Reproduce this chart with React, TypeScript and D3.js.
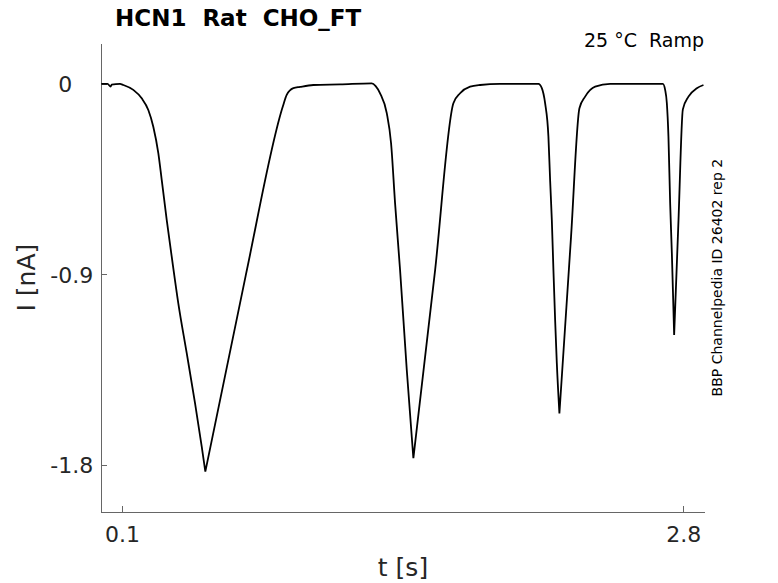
import React, { useEffect, useRef } from 'react'
import * as d3 from 'd3'

// trace: time in s, current in nA
const timeValues = [
  0.0, 0.03, 0.045, 0.05, 0.09, 0.1059, 0.154, 0.1944, 0.2262, 0.2502, 0.2743, 0.2907, 0.3147,
  0.3388, 0.3705, 0.411, 0.4509, 0.4832, 0.5005, 0.695, 0.8744, 0.892, 0.924, 0.956, 1.02, 1.149,
  1.301, 1.32, 1.3412, 1.3734, 1.3941, 1.4134, 1.4374, 1.4697, 1.5014, 1.606, 1.6939, 1.7262,
  1.7743, 1.8224, 1.918, 2.103, 2.1194, 2.1352, 2.1511, 2.1593, 2.1675, 2.1752, 2.1834, 2.1915,
  2.204, 2.26, 2.3003, 2.3277, 2.3759, 2.4481, 2.7017, 2.7127, 2.7209, 2.7286, 2.7368, 2.745,
  2.7527, 2.756, 2.777, 2.7979, 2.8248, 2.8652, 2.897,
]
const currentValues = [
  0.0, 0.0, -0.012, -0.003, 0.0, -0.005, -0.028, -0.068, -0.123, -0.202, -0.327, -0.453, -0.642,
  -0.816, -1.036, -1.272, -1.508, -1.713, -1.831, -0.904, -0.103, -0.052, -0.02, -0.014, -0.005,
  -0.002, 0.003, -0.01, -0.044, -0.138, -0.28, -0.564, -0.879, -1.351, -1.768, -0.879, -0.091,
  -0.044, -0.013, -0.005, 0.0, 0.0, -0.02, -0.091, -0.249, -0.455, -0.642, -0.879, -1.115, -1.318,
  -1.556, -0.721, -0.115, -0.06, -0.013, 0.0, 0.0, -0.028, -0.091, -0.249, -0.564, -0.8, -1.068,
  -1.186, -0.642, -0.12, -0.06, -0.02, -0.005,
]

const xTicks = [0.1, 2.8]
const xTickLabels = ['0.1', '2.8']
const yTicks = [0, -0.9, -1.8]
const yTickLabels = ['0   ', '-0.9', '-1.8']

const title = 'HCN1  Rat  CHO_FT'
const subtitle = '25 °C  Ramp'
const sideNote = 'BBP Channelpedia ID 26402 rep 2'

export default function App() {
  const svgRef = useRef<SVGSVGElement>(null)

  useEffect(() => {
    const svg = d3.select(svgRef.current)
    svg.selectAll('*').remove()

    const width = 778
    const height = 583
    const font = '"DejaVu Sans", sans-serif'
    const textColor = '#262626'

    const x = d3.scaleLinear().domain([0, 2.903]).range([101.3, 704.7])
    const y = d3.scaleLinear().domain([-2.022, 0.192]).range([512, 43.3])

    svg.attr('width', width).attr('height', height)

    // x axis, ticks pointing inward
    const xAxis = svg.append('g')
      .attr('transform', `translate(0, ${y.range()[0]})`)
      .call(
        d3.axisBottom(x)
          .tickValues(xTicks)
          .tickFormat((_, i) => xTickLabels[i])
          .tickSizeInner(-6)
          .tickSizeOuter(0)
          .tickPadding(14)
      )

    // y axis
    const yAxis = svg.append('g')
      .attr('transform', `translate(${x.range()[0]}, 0)`)
      .call(
        d3.axisLeft(y)
          .tickValues(yTicks)
          .tickFormat((_, i) => yTickLabels[i])
          .tickSizeInner(-6)
          .tickSizeOuter(0)
          .tickPadding(8)
      )

    for (const ax of [xAxis, yAxis]) {
      ax.select('.domain').attr('stroke', '#666').attr('stroke-width', 1).attr('shape-rendering', 'crispEdges')
      ax.selectAll('.tick line').attr('stroke', '#666').attr('stroke-width', 1).attr('shape-rendering', 'crispEdges')
      ax.selectAll('.tick text')
        .attr('fill', textColor)
        .style('font-family', font)
        .style('font-size', '22px')
        .style('white-space', 'pre')
    }
    yAxis.selectAll('.tick text').attr('dy', '0.36em')

    // trace: split at the local minima so the peaks stay sharp, smooth elsewhere
    const points: [number, number][] = timeValues.map((t, i) => [t, currentValues[i]])
    const segments: [number, number][][] = []
    let current: [number, number][] = []
    points.forEach((p, i) => {
      current.push(p)
      const prev = points[i - 1]
      const next = points[i + 1]
      if (prev && next && p[1] < prev[1] && p[1] < next[1] && p[1] < -0.5) {
        segments.push(current)
        current = [p]
      }
    })
    segments.push(current)

    const line = d3.line<[number, number]>()
      .x(d => x(d[0]))
      .y(d => y(d[1]))
      .curve(d3.curveMonotoneX)

    svg.append('path')
      .attr('d', segments.map(s => line(s)).join(''))
      .attr('fill', 'none')
      .attr('stroke', '#000')
      .attr('stroke-width', 1.8)
      .attr('stroke-linejoin', 'round')

    // texts
    svg.append('text')
      .attr('x', 115)
      .attr('y', 26)
      .style('font-family', font)
      .style('font-size', '23px')
      .style('font-weight', 'bold')
      .style('white-space', 'pre')
      .attr('fill', '#000')
      .text(title)

    svg.append('text')
      .attr('x', 704)
      .attr('y', 47)
      .attr('text-anchor', 'end')
      .style('font-family', font)
      .style('font-size', '19px')
      .style('white-space', 'pre')
      .attr('fill', '#000')
      .text(subtitle)

    svg.append('text')
      .attr('transform', `translate(722, ${(y.range()[0] + y.range()[1]) / 2}) rotate(-90)`)
      .attr('text-anchor', 'middle')
      .style('font-family', font)
      .style('font-size', '14px')
      .attr('fill', '#000')
      .text(sideNote)

    svg.append('text')
      .attr('x', (x.range()[0] + x.range()[1]) / 2)
      .attr('y', 576)
      .attr('text-anchor', 'middle')
      .style('font-family', font)
      .style('font-size', '25px')
      .attr('fill', textColor)
      .text('t [s]')

    svg.append('text')
      .attr('transform', `translate(35, ${(y.range()[0] + y.range()[1]) / 2}) rotate(-90)`)
      .attr('text-anchor', 'middle')
      .style('font-family', font)
      .style('font-size', '25px')
      .attr('fill', textColor)
      .text('I [nA]')
  }, [])

  return (
    <div style={{ position: 'absolute', left: 0, top: 0, background: '#fff' }}>
      <svg ref={svgRef} style={{ display: 'block' }} />
    </div>
  )
}
